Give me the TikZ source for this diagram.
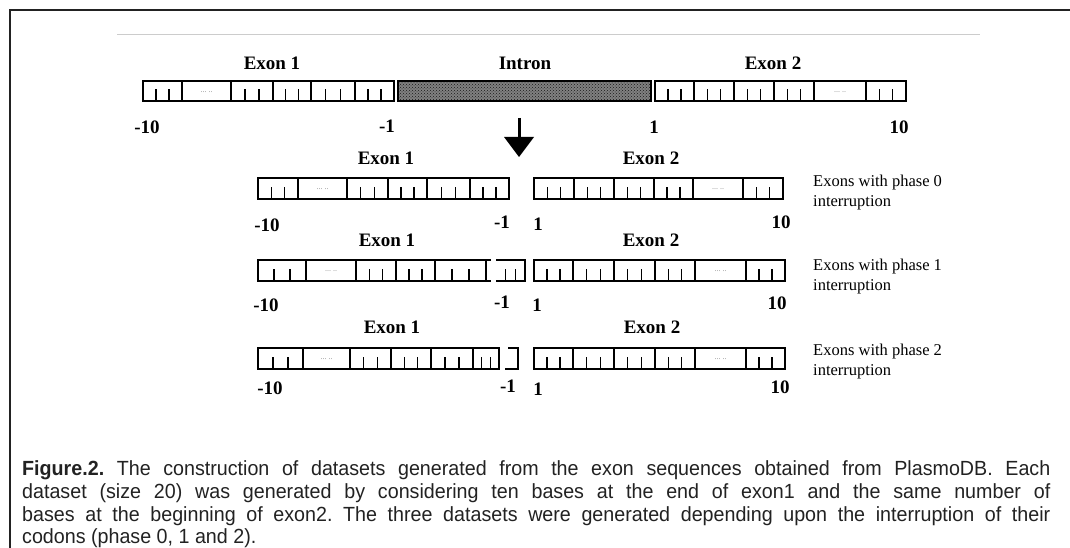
\documentclass[tikz,border=0pt]{standalone}
\usepackage{fontspec}
\usepackage{graphicx}
\setmainfont{Liberation Serif}
\newfontfamily\capfont{Liberation Sans}
\usetikzlibrary{patterns}
\definecolor{framec}{HTML}{222222}
\definecolor{capc}{HTML}{222222}
\frenchspacing
\tikzset{
  boxline/.style={line width=1.6pt, draw=black},
  tickline/.style={line width=1.1pt, draw=black},
  lab/.style={font=\fontsize{19}{19}\selectfont\bfseries, inner sep=0pt, anchor=center},
  side/.style={font=\fontsize{16.5}{16.5}\selectfont, inner sep=0pt, anchor=west},
  dots/.style={font=\fontsize{8}{8}\selectfont, text=black!45, inner sep=0pt},
  capline/.style={font=\capfont\fontsize{20.5}{20.5}\selectfont, text=capc, inner sep=0pt, anchor=base west},
}
% codon segment with two ticks: x1 x2 ytop ybottom
\newcommand\codonseg[4]{%
  \pgfmathsetmacro\ta{#1+(#2-#1)/3}%
  \pgfmathsetmacro\tb{#1+2*(#2-#1)/3}%
  \draw[tickline] (\ta,#4) -- (\ta,#4-12);
  \draw[tickline] (\tb,#4) -- (\tb,#4-12);
}
\newcommand\divider[3]{\draw[boxline] (#1,#2) -- (#1,#3);}
\newcommand\dotsseg[4]{\node[dots] at ({(#1+#2)/2},{(#3+#4)/2+1}) {... ..};}
\newcommand\capfit[1]{\scalebox{0.96}[1]{\hbox to 1071pt{#1}}}
\newcommand\capnat[1]{\scalebox{0.96}[1]{#1}}
\begin{document}
\begin{tikzpicture}[x=1pt,y=-1pt]
\useasboundingbox (0,0) rectangle (1070,548);
% frame
\draw[line width=2.2pt, draw=framec] (10,548) -- (10,10) -- (1070,10);
\draw[line width=1pt, draw=black!20] (117,35) -- (980,35);

%% ---------- top row ----------
\node[lab] (e1t) at (272,63) {Exon 1};
\node[lab] (intt) at (525,63) {Intron};
\node[lab] (e2t) at (773,63) {Exon 2};
\fill[black!50] (398,81) rectangle (651,101);
\fill[pattern=crosshatch dots, pattern color=black!90] (398,81) rectangle (651,101);
\draw[boxline] (398,81) rectangle (651,101);
\draw[boxline] (143,81) rectangle (394,101);
\foreach \x in {182,231,273,311,355} {\divider{\x}{81}{101}}
\foreach \a/\b in {143/182,231/273,273/311,311/355,355/394} {\codonseg{\a}{\b}{81}{101}}
\dotsseg{182}{231}{81}{101}
\draw[boxline] (655,81) rectangle (906,101);
\foreach \x in {694,734,774,814,866} {\divider{\x}{81}{101}}
\foreach \a/\b in {655/694,694/734,734/774,774/814,866/906} {\codonseg{\a}{\b}{81}{101}}
\dotsseg{814}{866}{81}{101}
\node[lab] (nt1) at (147,127) {-10};
\node[lab] (nt2) at (387,126) {-1};
\node[lab] (nt3) at (654,127) {1};
\node[lab] (nt4) at (899,127) {10};

% arrow
\coordinate (arrA) at (519,118);
\coordinate (arrB) at (519,139);
\coordinate (arrC) at (519,157);
\draw[line width=3pt] (arrA) -- (arrB);
\fill (504,137) -- (534,137) -- (arrC) -- cycle;

%% ---------- row 1: phase 0 ----------
\node[lab] (r1e1) at (386,158) {Exon 1};
\node[lab] (r1e2) at (651,158) {Exon 2};
\draw[boxline] (258,178) rectangle (509,199);
\foreach \x in {298,347,388,427,470} {\divider{\x}{178}{199}}
\foreach \a/\b in {258/298,347/388,388/427,427/470,470/509} {\codonseg{\a}{\b}{178}{199}}
\dotsseg{298}{347}{178}{199}
\draw[boxline] (534,178) rectangle (783,199);
\foreach \x in {574,614,654,693,743} {\divider{\x}{178}{199}}
\foreach \a/\b in {534/574,574/614,614/654,654/693,743/783} {\codonseg{\a}{\b}{178}{199}}
\dotsseg{693}{743}{178}{199}
\node[lab] (r1n1) at (267,225) {-10};
\node[lab] (r1n2) at (502,222) {-1};
\node[lab] (r1n3) at (538,224) {1};
\node[lab] (r1n4) at (781,222) {10};
\node[side] (r1s1) at (813,183) {Exons with phase 0};
\node[side] (r1s2) at (813,203) {interruption};

%% ---------- row 2: phase 1 ----------
\node[lab] (r2e1) at (387,240) {Exon 1};
\node[lab] (r2e2) at (651,240) {Exon 2};
\draw[boxline] (258,260) rectangle (486,281);
\draw[boxline] (486,260) -- (491,260);
\draw[boxline] (486,281) -- (491,281);
\foreach \x in {306,356,396,435} {\divider{\x}{260}{281}}
\foreach \a/\b in {258/306,356/396,396/435,435/486} {\codonseg{\a}{\b}{260}{281}}
\dotsseg{306}{356}{260}{281}
\draw[boxline] (496,260) -- (525,260) -- (525,281) -- (496,281);
\codonseg{496}{525}{260}{281}
\draw[boxline] (534,260) rectangle (785,281);
\foreach \x in {573,614,655,695,746} {\divider{\x}{260}{281}}
\foreach \a/\b in {534/573,573/614,614/655,655/695,746/785} {\codonseg{\a}{\b}{260}{281}}
\dotsseg{695}{746}{260}{281}
\node[lab] (r2n1) at (266,305) {-10};
\node[lab] (r2n2) at (502,302) {-1};
\node[lab] (r2n3) at (537,305) {1};
\node[lab] (r2n4) at (777,303) {10};
\node[side] (r2s1) at (813,267) {Exons with phase 1};
\node[side] (r2s2) at (813,287) {interruption};

%% ---------- row 3: phase 2 ----------
\node[lab] (r3e1) at (392,327) {Exon 1};
\node[lab] (r3e2) at (652,327) {Exon 2};
\draw[boxline] (258,348) rectangle (499,369);
\foreach \x in {303,350,391,431,473} {\divider{\x}{348}{369}}
\foreach \a/\b in {258/303,350/391,391/431,431/473,473/499} {\codonseg{\a}{\b}{348}{369}}
\dotsseg{303}{350}{348}{369}
\draw[boxline] (508,348) -- (518,348) -- (518,369) -- (505,369);
\draw[boxline] (534,348) rectangle (785,369);
\foreach \x in {573,614,655,695,746} {\divider{\x}{348}{369}}
\foreach \a/\b in {534/573,573/614,614/655,655/695,746/785} {\codonseg{\a}{\b}{348}{369}}
\dotsseg{695}{746}{348}{369}
\node[lab] (r3n1) at (270,388) {-10};
\node[lab] (r3n2) at (508,386) {-1};
\node[lab] (r3n3) at (538,389) {1};
\node[lab] (r3n4) at (780,387) {10};
\node[side] (r3s1) at (813,352) {Exons with phase 2};
\node[side] (r3s2) at (813,372) {interruption};

%% ---------- caption ----------
\node[capline] (cap1) at (22,475.5) {\capfit{\textbf{Figure.2.} The construction of datasets generated from the exon sequences obtained from PlasmoDB. Each}};
\node[capline] (cap2) at (22,498.5) {\capfit{dataset (size 20) was generated by considering ten bases at the end of exon1 and the same number of}};
\node[capline] (cap3) at (22,521.5) {\capfit{bases at the beginning of exon2. The three datasets were generated depending upon the interruption of their}};
\node[capline] (cap4) at (22,543.5) {\capnat{codons (phase 0, 1 and 2).}};
\end{tikzpicture}
\end{document}
